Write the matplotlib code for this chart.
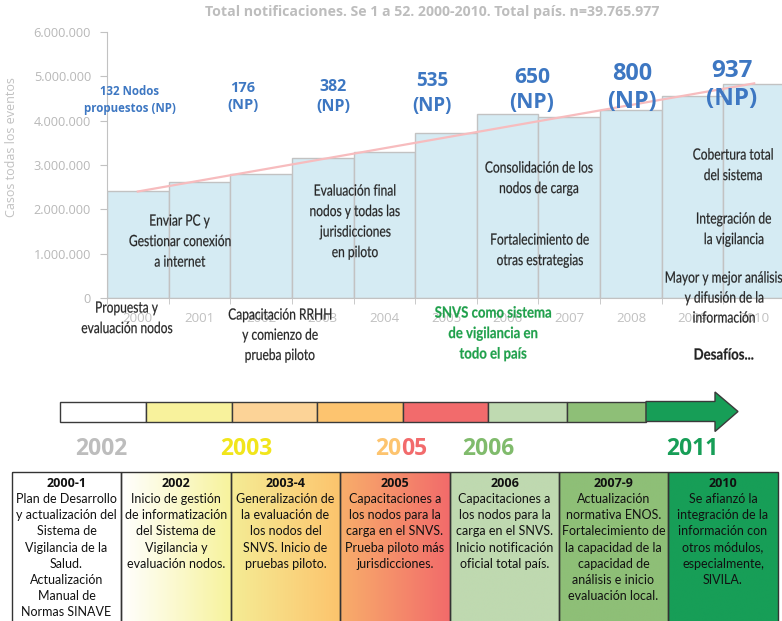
import numpy as np
import matplotlib
matplotlib.use("Agg")
import matplotlib.pyplot as plt
from matplotlib.patches import Rectangle, Polygon, PathPatch
from matplotlib.colors import LinearSegmentedColormap
from matplotlib.ticker import FuncFormatter
from matplotlib.textpath import TextPath
from matplotlib.font_manager import FontProperties
from matplotlib.transforms import Affine2D

# ---------------- data ----------------
years = ['2000', '2001', '2002', '2003', '2004', '2005', '2006', '2007', '2008', '2009', '2010']
casos = [2410000, 2620000, 2790000, 3160000, 3290000, 3730000, 4150000, 4080000, 4230000, 4560000, 4820000]
yticks = [0, 1000000, 2000000, 3000000, 4000000, 5000000, 6000000]

title = 'Total notificaciones. Se 1 a 52. 2000-2010. Total país. n=39.765.977'
ylabel = 'Casos todas los eventos'

np_labels = ['132 Nodos\npropuestos (NP)', '176\n(NP)', '382\n(NP)', '535\n(NP)',
             '650\n(NP)', '800\n(NP)', '937\n(NP)']

chart_notes = ['Enviar PC y\nGestionar conexión\na internet',
               'Evaluación final\nnodos y todas las\njurisdicciones\nen piloto',
               'Consolidación de los\nnodos de carga',
               'Fortalecimiento de\notras estrategias',
               'Cobertura total\ndel sistema',
               'Integración de\nla vigilancia',
               'Mayor y mejor análisis\ny difusión de la\ninformación',
               'Propuesta y\nevaluación nodos',
               'Capacitación RRHH\ny comienzo de\nprueba piloto']
snvs_note = 'SNVS como sistema\nde vigilancia en\ntodo el país'
desafios = 'Desafíos...'

timeline_colors = ['#ffffff', '#f8f29c', '#fcd397', '#fdc46f', '#f26b6c', '#bfdab1', '#8ebf77', '#179e57']
timeline_years = ['2002', '2003', '2005', '2006', '2011']
timeline_year_colors = ['#bdbdbd', '#f1e51b', ('#fdc46f', '#f26b6c'), '#80bb6c', '#179e57']

table_headers = ['2000-1', '2002', '2003-4', '2005', '2006', '2007-9', '2010']
table_texts = [
    'Plan de Desarrollo\ny actualización del\nSistema de\nVigilancia de la\nSalud.\nActualización\nManual de\nNormas SINAVE',
    'Inicio de gestión\nde informatización\ndel Sistema de\nVigilancia y\nevaluación nodos.',
    'Generalización de\nla evaluación de\nlos nodos del\nSNVS. Inicio de\npruebas piloto.',
    'Capacitaciones a\nlos nodos para la\ncarga en el SNVS.\nPrueba piloto más\njurisdicciones.',
    'Capacitaciones a\nlos nodos para la\ncarga en el SNVS.\nInicio notificación\noficial total país.',
    'Actualización\nnormativa ENOS.\nFortalecimiento de\nla capacidad de la\ncapacidad de\nanálisis e inicio\nevaluación local.',
    'Se afianzó la\nintegración de la\ninformación con\notros módulos,\nespecialmente,\nSIVILA.',
]
table_fills = [('#ffffff', '#ffffff'), ('#ffffff', '#f7f39d'), ('#f5ec95', '#fcc46d'),
               ('#f8ae6a', '#f26b6b'), ('#bfd9b0', '#bfd9b0'), ('#8ebf77', '#8ebf77'),
               ('#179e57', '#179e57')]

# ---------------- figure ----------------
W, H = 782, 621
fig = plt.figure(figsize=(W / 100, H / 100), dpi=100)

def fx(px):
    return px / W

def fy(py):
    return 1 - py / H

SANS = ['Open Sans', 'DejaVu Sans']

# chart axes
x0, x1, ytop, ybot = 107, 785, 32, 298
ax = fig.add_axes([fx(x0), fy(ybot), fx(x1 - x0), (ybot - ytop) / H])
xs = np.arange(len(years))
ax.bar(xs, casos, width=1.0, color='#d5ebf3', edgecolor='#c2c2c2', linewidth=1.0, zorder=2)
coef = np.polyfit(xs, casos, 1)
ax.plot([xs[0], xs[-1]], np.polyval(coef, [xs[0], xs[-1]]), color='#f7bcbe', lw=1.6, zorder=3)
ax.set_xlim(-0.5, len(years) - 0.5)
ax.set_ylim(0, 6000000)
ax.set_yticks(yticks)
ax.yaxis.set_major_formatter(FuncFormatter(lambda v, p: f'{int(v):,}'.replace(',', '.')))
ax.set_xticks(xs)
ax.set_xticklabels(years)
ax.set_xticks(np.arange(len(years) + 1) - 0.5, minor=True)
for s in ['top', 'right']:
    ax.spines[s].set_visible(False)
for s in ['left', 'bottom']:
    ax.spines[s].set_color('#c2c2c2')
ax.tick_params(axis='y', colors='#c2c2c2', labelcolor='#b8b8b8', length=5, labelsize=9.2, pad=6.5)
ax.tick_params(axis='x', which='major', length=0, labelcolor='#c0c0c0', labelsize=9.5, pad=10.0)
ax.tick_params(axis='x', which='minor', length=4, color='#c2c2c2')
for lab in ax.get_xticklabels() + ax.get_yticklabels():
    lab.set_fontfamily(SANS)
ax.set_facecolor('none')

# overlay axes in pixel coords
ov = fig.add_axes([0, 0, 1, 1], zorder=5)
ov.set_xlim(0, W)
ov.set_ylim(H, 0)
ov.axis('off')
ov.patch.set_alpha(0)

def mtext(x, ys, text, **kw):
    for line, y in zip(text.split('\n'), ys):
        ov.text(x, y, line, ha='center', va='center_baseline', **kw)

def pitch(y0, n, p):
    return [y0 + i * p for i in range(n)]

def natural_width(s, size, weight):
    tp = TextPath((0, 0), s, size=size, prop=FontProperties(family='Lato', weight=weight))
    e = tp.get_extents()
    return e.x1 - e.x0

def ctext(x, y, s, size, sx, color, weight='normal', stroke=0.15):
    """condensed text drawn as a horizontally squeezed path (pixel coords)"""
    tp = TextPath((0, 0), s, size=size, prop=FontProperties(family='Lato', weight=weight))
    e = tp.get_extents()
    tr = Affine2D().translate(-(e.x0 + e.x1) / 2, 0).scale(sx, -1).translate(x, y + 0.36 * size)
    ov.add_patch(PathPatch(tr.transform_path(tp), facecolor=color, edgecolor=color,
                           lw=stroke, zorder=4))

def cmulti(x, ys, text, size, sx, color, weight='normal'):
    for line, y in zip(text.split('\n'), ys):
        ctext(x, y, line, size, sx, color, weight)

ov.text(432, 12, title, ha='center', va='center', color='#bdbdbd', fontsize=10.2,
        fontweight='bold', family=SANS)
ov.text(12, 147, ylabel, ha='center', va='center', rotation=90, color='#c0c0c0',
        fontsize=9.0, family=SANS)

# NP labels
np_x = [130, 243, 333, 432, 532, 632, 732]
np_y = [(90, 107), (87, 104), (85, 105), (79, 103), (75, 100), (71, 99), (68, 96)]
np_fs = [8.3, 10.5, 11.5, 13.5, 15.2, 16.8, 17.5]
for lab, x, yy, fs in zip(np_labels, np_x, np_y, np_fs):
    mtext(x, yy, lab, color='#3d77c2', fontsize=fs, fontweight='bold', family=SANS)

# notes in chart (condensed)
NS = 15.5
sx_n = 101.0 / natural_width('Gestionar conexión', NS, 'normal')
sx_b = 116.0 / natural_width('SNVS como sistema', NS, 'bold')
note_pos = [(180, 220, 20.5), (355, 190, 20.5), (539, 167, 20.5), (540, 239, 20.5),
            (733, 154, 20.5), (734, 218, 20.5), (724, 277, 20.0), (127, 307, 20.5),
            (280, 314, 20.2)]
for txt, (x, y0, p) in zip(chart_notes, note_pos):
    cmulti(x, pitch(y0, txt.count('\n') + 1, p), txt, NS, sx_n, '#262626')
cmulti(493, pitch(312, 3, 20.5), snvs_note, NS, sx_b, '#1fa04b', 'bold')
ctext(724, 354, desafios, NS, sx_b, '#222222', 'bold')

# timeline arrow
seg_edges = [60, 146, 232, 317, 403, 488, 567, 646]
ty0, ty1 = 401.5, 421.5
for i, c in enumerate(timeline_colors[:-1]):
    ov.add_patch(Rectangle((seg_edges[i], ty0), seg_edges[i + 1] - seg_edges[i], ty1 - ty0,
                           facecolor=c, edgecolor='#3a3a3a', lw=1.0))
arrow = Polygon([(646, ty0), (715, ty0), (715, 392), (738, 411.5), (715, 431.5), (715, ty1), (646, ty1)],
                closed=True, facecolor=timeline_colors[-1], edgecolor='#3a3a3a', lw=1.0)
ov.add_patch(arrow)

ty_x = [101, 246, 401, 488, 692]
TFS = 16.5
for lab, x, col in zip(timeline_years, ty_x, timeline_year_colors):
    if isinstance(col, tuple):
        ov.text(x, 446, lab[:2], ha='right', va='center_baseline', color=col[0], fontsize=TFS,
                fontweight='bold', family=SANS)
        ov.text(x, 446, lab[2:], ha='left', va='center_baseline', color=col[1], fontsize=TFS,
                fontweight='bold', family=SANS)
    else:
        ov.text(x, 446, lab, ha='center', va='center_baseline', color=col, fontsize=TFS,
                fontweight='bold', family=SANS)

# table
col_edges = [12, 121, 231, 340, 450, 559, 668, 778]
tb0, tb1 = 472, 630
for i, (c0, c1) in enumerate(table_fills):
    cmap = LinearSegmentedColormap.from_list('g%d' % i, [c0, c1])
    grad = np.linspace(0, 1, 256).reshape(1, -1)
    ov.imshow(grad, cmap=cmap, extent=(col_edges[i], col_edges[i + 1], tb1, tb0),
              aspect='auto', zorder=1, interpolation='bilinear')
    ov.add_patch(Rectangle((col_edges[i], tb0), col_edges[i + 1] - col_edges[i], tb1 - tb0,
                           facecolor='none', edgecolor='#333333', lw=1.0, zorder=2))
    cx = (col_edges[i] + col_edges[i + 1]) / 2
    ov.text(cx, 482, table_headers[i], ha='center', va='center_baseline', fontsize=9.0,
            fontweight='bold', color='#111111', family=SANS, zorder=3)
    lines = table_texts[i].split('\n')
    for j, line in enumerate(lines):
        ov.text(cx, 498 + j * 16.2, line, ha='center', va='center_baseline', fontsize=9.0,
                color='#111111', family=['Lato', 'DejaVu Sans'], zorder=3)
ov.set_xlim(0, W)
ov.set_ylim(H, 0)

fig.savefig('out.png', dpi=100)
